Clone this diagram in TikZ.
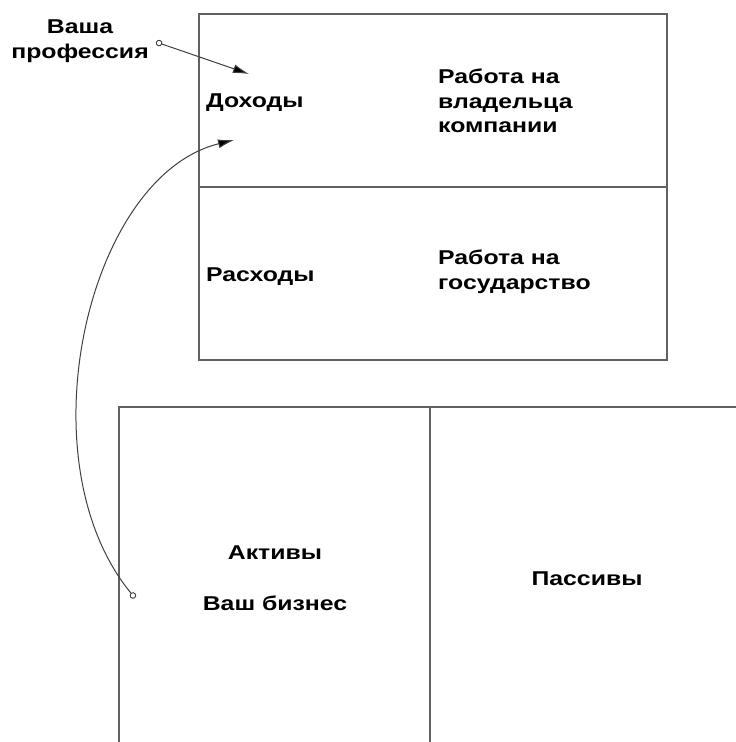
\documentclass[tikz,border=0pt]{standalone}
\usepackage{fontspec}
\newfontfamily\labfont[FakeStretch=1.24]{Liberation Sans}
\usetikzlibrary{arrows.meta}
\begin{document}
\begin{tikzpicture}[x=1pt,y=1pt,
  boxline/.style={draw=black!62,line width=1.5pt},
  lbl/.style={inner sep=0pt,font=\labfont\bfseries\fontsize{20}{24.5}\selectfont,text=black},
  conn/.style={draw=black!75,line width=1pt,{Circle[open,length=6.5pt,width=6.5pt,line width=0.9pt]}-{Latex[length=16pt,width=9pt,fill=black]}}]
\useasboundingbox (0,0) rectangle (736,-742);
% top box
\draw[boxline] (199,-14) rectangle (667,-360);
\draw[boxline] (199,-187) -- (667,-187);
% bottom box
\draw[boxline] (119,-742) -- (119,-407) -- (736,-407);
\draw[boxline] (430,-407) -- (430,-742);
% labels
\node[lbl,align=center,anchor=north] (prof) at (80,-20) {Ваша\\профессия};
\node[lbl,anchor=base west] (inc) at (206,-107) {Доходы};
\node[lbl,align=left,anchor=north west] (owner) at (438,-69) {Работа на\\владельца\\компании};
\node[lbl,anchor=base west] (exp) at (206,-281) {Расходы};
\node[lbl,align=left,anchor=north west] (state) at (438,-250) {Работа на\\государство};
\node[lbl,anchor=base] (act) at (275,-559) {Активы};
\node[lbl,anchor=base] (biz) at (275,-610) {Ваш бизнес};
\node[lbl,anchor=base] (pas) at (587,-585) {Пассивы};
% connectors
\coordinate (profstart) at (156,-42);
\coordinate (profend) at (249,-74);
\coordinate (bizstart) at (135,-598);
\coordinate (bizend) at (234,-140);
\draw[conn] (profstart) -- (profend);
\draw[conn] (bizstart) .. controls (22,-461) and (87,-176) .. (bizend);
\end{tikzpicture}
\end{document}
